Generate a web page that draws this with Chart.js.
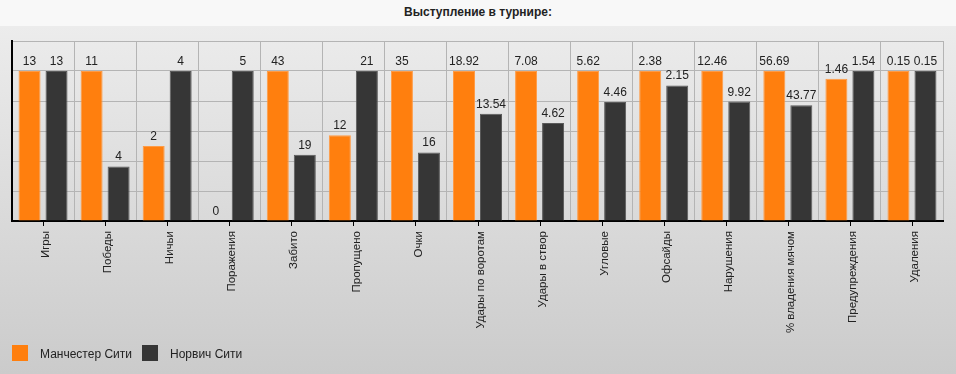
<!DOCTYPE html>
<html>
<head>
<meta charset="utf-8">
<script src="https://cdn.jsdelivr.net/npm/chart.js@4"></script>
<style>
  html, body { margin: 0; padding: 0; }
  body { width: 956px; height: 374px; overflow: hidden; font-family: "Liberation Sans", Arial, sans-serif; }
  #title {
    height: 26px; line-height: 25px; background: #f8f8f8;
    text-align: center; font-weight: bold; font-size: 12px; color: #222;
  }
  #wrap {
    position: relative; width: 956px; height: 348px;
    background: linear-gradient(to bottom, #ececec 0%, #cbcbcb 100%);
  }
  #legend { position: absolute; left: 0; top: 319px; width: 400px; height: 20px; font-size: 12px; color: #222; }
  .sw { position: absolute; top: 0; width: 16px; height: 16px; }
  .lbl { position: absolute; top: 1px; line-height: 16px; white-space: nowrap; }
</style>
</head>
<body>
<div id="title">Выступление в турнире:</div>
<div id="wrap">
  <canvas id="chart" width="956" height="348"></canvas>
  <div id="legend"></div>
</div>
<script>
const CATEGORIES = [
    'Игры', 'Победы', 'Ничьи', 'Поражения', 'Забито', 'Пропущено', 'Очки',
    'Удары по воротам', 'Удары в створ', 'Угловые', 'Офсайды', 'Нарушения',
    '% владения мячом', 'Предупреждения', 'Удаления',
];
const MAN_CITY = [13, 11, 2, 0, 43, 12, 35, 18.92, 7.08, 5.62, 2.38, 12.46, 56.69, 1.46, 0.15];
const NORWICH  = [13, 4, 4, 5, 19, 21, 16, 13.54, 4.62, 4.46, 2.15, 9.92, 43.77, 1.54, 0.15];
const SERIES_NAMES = ['Манчестер Сити', 'Норвич Сити'];
const COLORS = ['#ff7f0e', '#363636'];
const BORDERS = ['#ff9b45', '#5a5a5a'];

// each pair is scaled so the bigger value reaches 100
const pct = (a, b) => a.map((v, i) => {
    const m = Math.max(a[i], b[i]);
    return m ? v / m * 100 : 0;
});

const FONT = '"Liberation Sans", Arial, sans-serif';

const valueLabels = {
    id: 'valueLabels',
    afterDatasetsDraw(chart) {
        const ctx = chart.ctx;
        ctx.save();
        ctx.font = '12px ' + FONT;
        ctx.fillStyle = '#222';
        ctx.textAlign = 'center';
        ctx.textBaseline = 'alphabetic';
        chart.data.datasets.forEach((ds, di) => {
            chart.getDatasetMeta(di).data.forEach((bar, i) => {
                ctx.fillText(String(ds.raw[i]), bar.x, bar.y - 6);
            });
        });
        ctx.restore();
    },
};

const centerTicks = {
    id: 'centerTicks',
    afterDraw(chart) {
        const { ctx, chartArea } = chart;
        const x = chart.scales.x;
        ctx.save();
        ctx.strokeStyle = '#000';
        ctx.lineWidth = 1;
        CATEGORIES.forEach((c, i) => {
            const px = Math.round(x.getPixelForValue(i)) + 0.5;
            ctx.beginPath();
            ctx.moveTo(px, chartArea.bottom);
            ctx.lineTo(px, chartArea.bottom + 5);
            ctx.stroke();
        });
        ctx.restore();
    },
};

new Chart(document.getElementById('chart'), {
    type: 'bar',
    data: {
        labels: CATEGORIES,
        datasets: [
            { label: SERIES_NAMES[0], raw: MAN_CITY, data: pct(MAN_CITY, NORWICH) },
            { label: SERIES_NAMES[1], raw: NORWICH,  data: pct(NORWICH, MAN_CITY) },
        ].map((d, i) => ({
            ...d,
            backgroundColor: COLORS[i],
            borderColor: BORDERS[i],
            borderWidth: 1,
            categoryPercentage: 0.87,
            barPercentage: 0.815,
        })),
    },
    options: {
        responsive: false,
        animation: false,
        layout: { padding: { left: 12, right: 13, top: 15, bottom: 0 } },
        plugins: { legend: { display: false }, tooltip: { enabled: false } },
        scales: {
            x: {
                grid: { color: '#b4b4b4', offset: true, drawTicks: false },
                border: { color: '#000', width: 2 },
                ticks: {
                    minRotation: 90, maxRotation: 90, padding: 10, labelOffset: 3,
                    color: '#222', font: { family: FONT, size: 11.5 },
                },
                afterFit(s) { s.height = 153; },
            },
            y: {
                min: 0, max: 120,
                ticks: { display: false, stepSize: 20 },
                grid: { color: '#b4b4b4', drawTicks: false },
                border: { color: '#000', width: 2 },
                afterFit(s) { s.width = 0; },
            },
        },
    },
    plugins: [valueLabels, centerTicks],
});

const legend = document.getElementById('legend');
[[12, 40], [142, 170]].forEach(([sx, tx], i) => {
    legend.insertAdjacentHTML('beforeend',
        `<span class="sw" style="left:${sx}px;background:${COLORS[i]}"></span>` +
        `<span class="lbl" style="left:${tx}px">${SERIES_NAMES[i]}</span>`);
});
</script>
</body>
</html>
